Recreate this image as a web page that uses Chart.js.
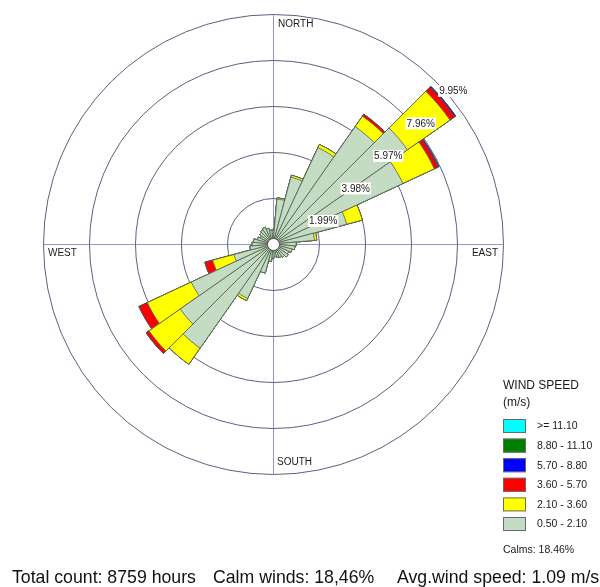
<!DOCTYPE html>
<html>
<head>
<meta charset="utf-8">
<script src="https://cdn.jsdelivr.net/npm/chart.js@4.4.1/dist/chart.umd.min.js"></script>
<style>
  html, body { margin: 0; padding: 0; background: #ffffff; }
  #wrap { position: relative; width: 600px; height: 587px; }
</style>
</head>
<body>
<div id="wrap"><canvas id="rose"></canvas></div>
<script>
// Wind directions (degrees, clockwise from north), one 10° sector each
const directions = [0, 10, 20, 30, 40, 50, 60, 70, 80, 90, 100, 110,
                    120, 130, 140, 150, 160, 170, 180, 190, 200, 210, 220, 230,
                    240, 250, 260, 270, 280, 290, 300, 310, 320, 330, 340, 350];

// Frequency (% of all hours) per direction for each wind-speed class
const speed_0_50 = [0.60, 1.95, 3.00, 4.60, 6.20, 7.10, 6.20, 3.30, 1.80, 1.00, 0.95, 0.85,
                    0.75, 0.80, 0.70, 0.65, 0.60, 0.55, 0.60, 0.75, 1.30, 2.60, 5.50, 4.90,
                    3.90, 1.75, 1.00, 0.90, 0.85, 0.70, 0.60, 0.70, 0.75, 0.80, 0.70, 0.60];
const speed_2_10 = [0, 0.05, 0.08, 0.15, 0.55, 2.25, 1.50, 0.70, 0.10, 0, 0, 0,
                    0, 0, 0, 0, 0, 0, 0, 0, 0, 0.10, 0.85, 1.65,
                    2.10, 0.95, 0, 0, 0, 0, 0, 0, 0, 0, 0, 0];
const speed_3_60 = [0, 0, 0, 0, 0.10, 0.25, 0.18, 0, 0, 0, 0, 0,
                    0, 0, 0, 0, 0, 0, 0, 0, 0, 0, 0, 0.15,
                    0.40, 0.35, 0, 0, 0, 0, 0, 0, 0, 0, 0, 0];
const speed_5_70 = [0, 0, 0, 0, 0, 0.05, 0.04, 0, 0, 0, 0, 0,
                    0, 0, 0, 0, 0, 0, 0, 0, 0, 0, 0, 0,
                    0, 0, 0, 0, 0, 0, 0, 0, 0, 0, 0, 0];
const speed_8_80 = [0, 0, 0, 0, 0, 0, 0, 0, 0, 0, 0, 0,
                    0, 0, 0, 0, 0, 0, 0, 0, 0, 0, 0, 0,
                    0, 0, 0, 0, 0, 0, 0, 0, 0, 0, 0, 0];
const speed_11_10 = [0, 0, 0, 0, 0, 0, 0, 0, 0, 0, 0, 0,
                     0, 0, 0, 0, 0, 0, 0, 0, 0, 0, 0, 0,
                     0, 0, 0, 0, 0, 0, 0, 0, 0, 0, 0, 0];

// Speed classes, slowest first
const classLabels = ['0.50 - 2.10', '2.10 - 3.60', '3.60 - 5.70', '5.70 - 8.80', '8.80 - 11.10', '>= 11.10'];
const classColors = ['#c3dcc3', '#ffff00', '#ff0000', '#0000ff', '#008000', '#00ffff'];
const classSeries = [speed_0_50, speed_2_10, speed_3_60, speed_5_70, speed_8_80, speed_11_10];

// Rings of the radial scale and their labels
const ringValues = [1.99, 3.98, 5.97, 7.96, 9.95];
const ringLabels = ['1.99%', '3.98%', '5.97%', '7.96%', '9.95%'];
const compassLabels = ['NORTH', 'EAST', 'SOUTH', 'WEST'];
const legendTitle = ['WIND SPEED', '(m/s)'];
const calmsLabel = 'Calms: 18.46%';
const footerTexts = ['Total count: 8759 hours', 'Calm winds: 18,46%', 'Avg.wind speed: 1.09 m/s'];

// Stack the classes: each dataset holds the running total up to its class.
// Dataset 0 (slowest class) is painted last, so it lies on top.
const datasets = classSeries.map((series, k) => ({
  label: classLabels[k],
  data: directions.map((_, i) => {
    let s = 0;
    for (let j = 0; j <= k; j++) s += classSeries[j][i];
    return +s.toFixed(4);
  }),
  backgroundColor: classColors[k],
  borderColor: '#4f5f4f',
  borderWidth: 0.8
}));

const FONT = '"Liberation Sans", Arial, sans-serif';

const roseDecor = {
  id: 'roseDecor',
  beforeDatasetsDraw(chart) {
    const ctx = chart.ctx;
    const sc = chart.scales.r;
    const cx = sc.xCenter, cy = sc.yCenter;
    const R = sc.getDistanceFromCenterForValue(ringValues[ringValues.length - 1]);
    ctx.save();
    // compass cross
    ctx.strokeStyle = '#9696c6';
    ctx.lineWidth = 1;
    ctx.beginPath();
    ctx.moveTo(cx - R, cy + 0.5); ctx.lineTo(cx + R, cy + 0.5);
    ctx.moveTo(cx + 0.5, cy - R); ctx.lineTo(cx + 0.5, cy + R);
    ctx.stroke();
    // rings
    ctx.strokeStyle = '#5e5e7e';
    ringValues.forEach(v => {
      const r = sc.getDistanceFromCenterForValue(v);
      ctx.beginPath();
      ctx.arc(cx + 0.5, cy + 0.5, r, 0, Math.PI * 2);
      ctx.stroke();
    });
    ctx.restore();
  },
  afterDatasetsDraw(chart) {
    const ctx = chart.ctx;
    const sc = chart.scales.r;
    const cx = sc.xCenter, cy = sc.yCenter;
    const R = sc.getDistanceFromCenterForValue(ringValues[ringValues.length - 1]);
    ctx.save();
    // calm circle
    ctx.beginPath();
    ctx.arc(cx + 0.5, cy + 0.5, 6, 0, Math.PI * 2);
    ctx.fillStyle = '#ffffff';
    ctx.fill();
    ctx.strokeStyle = '#555555';
    ctx.lineWidth = 1;
    ctx.stroke();

    // ring labels along the north-east diagonal
    ctx.font = '10px ' + FONT;
    ctx.textBaseline = 'middle';
    ctx.textAlign = 'left';
    ringValues.forEach((v, i) => {
      const r = sc.getDistanceFromCenterForValue(v);
      const x = cx + r * Math.SQRT1_2 + 3.5;
      const y = cy - r * Math.SQRT1_2 + 9.5;
      const w = ctx.measureText(ringLabels[i]).width;
      ctx.fillStyle = '#ffffff';
      ctx.fillRect(x - 1, y - 6, w + 2, 12);
      ctx.fillStyle = '#1a1a1a';
      ctx.fillText(ringLabels[i], x, y + 0.5);
    });

    // compass labels
    ctx.fillStyle = '#1a1a1a';
    ctx.textAlign = 'left';
    ctx.fillText(compassLabels[0], cx + 5, cy - R + 10);
    ctx.textAlign = 'right';
    ctx.fillText(compassLabels[1], cx + R - 5, cy + 9);
    ctx.textAlign = 'left';
    ctx.fillText(compassLabels[2], cx + 4, cy + R - 12);
    ctx.fillText(compassLabels[3], cx - R + 5, cy + 9);
    ctx.restore();
  },
  afterDraw(chart) {
    const ctx = chart.ctx;
    ctx.save();
    // legend
    const lx = 503;
    ctx.fillStyle = '#1a1a1a';
    ctx.textAlign = 'left';
    ctx.textBaseline = 'middle';
    ctx.font = '12px ' + FONT;
    ctx.fillText(legendTitle[0], lx, 386);
    ctx.fillText(legendTitle[1], lx, 403);
    ctx.font = '10.5px ' + FONT;
    for (let i = 0; i < classLabels.length; i++) {
      const k = classLabels.length - 1 - i; // fastest class on top
      const y = 419 + i * 19.6;
      ctx.fillStyle = classColors[k];
      ctx.fillRect(lx, y, 23, 14);
      ctx.strokeStyle = '#6a6a6a';
      ctx.lineWidth = 1;
      ctx.strokeRect(lx + 0.5, y + 0.5, 22, 13);
      ctx.fillStyle = '#1a1a1a';
      ctx.fillText(classLabels[k], 537, y + 7.5);
    }
    ctx.fillText(calmsLabel, lx, 550);

    // footer line
    ctx.font = '17.7px ' + FONT;
    ctx.fillStyle = '#111111';
    const fx = [12, 213, 397];
    footerTexts.forEach((t, i) => ctx.fillText(t, fx[i], 578));
    ctx.restore();
  }
};

new Chart(document.getElementById('rose'), {
  type: 'polarArea',
  data: { labels: directions.map(d => d + '°'), datasets },
  options: {
    responsive: true,
    maintainAspectRatio: false,
    animation: false,
    layout: { padding: { left: 43, top: 14, right: 97, bottom: 113 } },
    plugins: { legend: { display: false }, tooltip: { enabled: false }, title: { display: false } },
    scales: {
      r: {
        min: 0,
        max: 9.95,
        startAngle: -5,
        grid: { display: false },
        angleLines: { display: false },
        ticks: { display: false },
        pointLabels: { display: false }
      }
    }
  },
  plugins: [roseDecor]
});
</script>
</body>
</html>
